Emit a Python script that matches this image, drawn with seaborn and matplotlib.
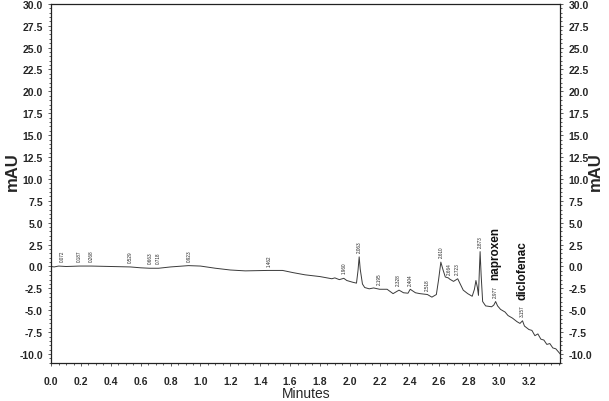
import pandas as pd
import seaborn as sns
import matplotlib.pyplot as plt
import numpy as np
from matplotlib.ticker import MultipleLocator, FormatStrFormatter

# chromatogram trace (minutes, mAU)
minutes = [0.00, 0.02, 0.05, 0.10, 0.19, 0.27, 0.40, 0.53, 0.60, 0.66, 0.72, 0.80,
           0.92, 1.00, 1.10, 1.20, 1.30, 1.45, 1.55, 1.62, 1.70, 1.80, 1.88, 1.90,
           1.93, 1.96, 1.98, 2.02, 2.045, 2.055, 2.063, 2.07, 2.085, 2.10, 2.13, 2.16,
           2.20, 2.25, 2.29, 2.33, 2.36, 2.39, 2.405, 2.44, 2.47, 2.52, 2.55, 2.58, 2.595,
           2.61, 2.625, 2.64, 2.66, 2.67, 2.695, 2.723, 2.74, 2.76, 2.79, 2.82, 2.835,
           2.845, 2.855, 2.862, 2.868, 2.873, 2.88, 2.89, 2.91, 2.95, 2.965, 2.977, 2.99,
           3.01, 3.04, 3.06, 3.09, 3.12, 3.14, 3.157, 3.17, 3.20, 3.22, 3.24, 3.26,
           3.28, 3.30, 3.32, 3.34, 3.36, 3.38, 3.41]
mau = [0.0, -0.05, 0.05, 0.0, 0.05, 0.05, 0.0, -0.05, -0.15, -0.2, -0.2, -0.05,
       0.1, 0.05, -0.2, -0.4, -0.5, -0.45, -0.45, -0.7, -0.95, -1.15, -1.4, -1.3,
       -1.5, -1.35, -1.6, -1.8, -1.9, -0.5, 1.1, -0.3, -2.0, -2.4, -2.55, -2.45,
       -2.6, -2.6, -3.1, -2.7, -3.0, -3.05, -2.6, -3.0, -3.1, -3.2, -3.5, -3.2, -1.5,
       0.5, -0.4, -1.2, -1.3, -1.45, -1.7, -1.4, -2.0, -2.7, -3.1, -3.4, -2.6,
       -1.6, -2.4, -3.3, -0.5, 1.7, -1.0, -4.0, -4.5, -4.6, -4.4, -4.0, -4.5,
       -4.9, -5.2, -5.6, -5.9, -6.3, -6.5, -6.2, -6.8, -7.2, -7.3, -7.9, -7.7,
       -8.3, -8.4, -8.9, -8.8, -9.3, -9.4, -10.0]

# retention times printed above the peaks
peak_rt = [0.072, 0.187, 0.268, 0.529, 0.663, 0.718, 0.923, 1.462, 1.960, 2.063,
           2.195, 2.328, 2.404, 2.518, 2.610, 2.664, 2.723, 2.873, 2.977, 3.157]
compounds = ['naproxen', 'diclofenac']
compound_rt = [2.977, 3.157]

df = pd.DataFrame({'Minutes': minutes, 'mAU': mau})

sns.set_style('ticks')
plt.rcParams['font.family'] = ['Liberation Sans', 'DejaVu Sans']

fig = plt.figure(figsize=(6.09, 4.02), dpi=100)
ax = fig.add_axes([0.084, 0.095, 0.836, 0.893])

sns.lineplot(data=df, x='Minutes', y='mAU', ax=ax, color='#3a3a3a', linewidth=0.7)

ax.set_xlim(0, 3.41)
ax.set_ylim(-11, 30)
ax.xaxis.set_minor_locator(MultipleLocator(0.05))
ax.yaxis.set_major_locator(MultipleLocator(2.5))
ax.yaxis.set_minor_locator(MultipleLocator(0.5))
ax.xaxis.set_major_formatter(FormatStrFormatter('%.1f'))
ax.yaxis.set_major_formatter(FormatStrFormatter('%.1f'))
ax.set_xticks(np.arange(0, 3.21, 0.2))
ax.tick_params(which='both', direction='out', right=True, labelright=True,
               labelsize=7.5, width=0.6, color='#444444')
ax.tick_params(which='major', length=2.5)
ax.tick_params(which='minor', length=1.5)
ax.tick_params(axis='x', which='major', pad=7)
for lab in ax.get_xticklabels() + ax.get_yticklabels() + ax.yaxis.get_ticklabels(which='major'):
    lab.set_fontweight('bold')
for lab in ax.yaxis.get_majorticklabels():
    lab.set_fontweight('bold')
for t in ax.yaxis.get_major_ticks():
    t.label2.set_fontweight('bold')
for s in ax.spines.values():
    s.set_linewidth(0.9)
    s.set_color('#222222')

ax.set_xlabel('')
ax.set_ylabel('')
fig.text(0.502, 0.02, 'Minutes', fontsize=10, ha='center', va='center')
fig.text(0.02, 0.572, 'mAU', fontsize=12, fontweight='bold', rotation=90,
         ha='center', va='center')
fig.text(0.977, 0.572, 'mAU', fontsize=12, fontweight='bold', rotation=90,
         ha='center', va='center')

# peak labels
for rt in peak_rt:
    yv = np.interp(rt, minutes, mau)
    ax.annotate(f'{rt:.3f}', (rt, yv), xytext=(0, 3.5), textcoords='offset points',
                rotation=90, ha='center', va='bottom', fontsize=3.3, color='#222222')

for name, rt in zip(compounds, compound_rt):
    yv = np.interp(rt, minutes, mau)
    ax.annotate(name, (rt, yv), xytext=(0, 16), textcoords='offset points',
                rotation=90, ha='center', va='bottom', fontsize=8.5,
                fontweight='bold', color='#111111')

fig.savefig('out.png', dpi=100)
